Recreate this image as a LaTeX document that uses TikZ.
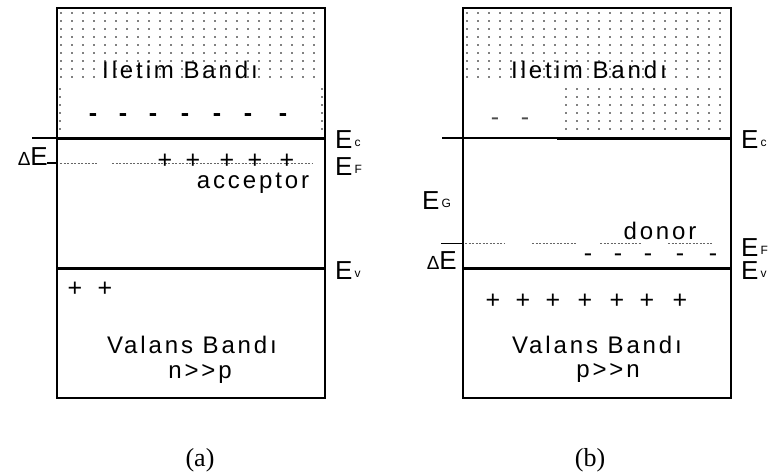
\documentclass[tikz,border=0pt]{standalone}
\usepackage{fontspec}
\setmainfont{Liberation Sans}
\newfontfamily\bandfont{Liberation Sans}[LetterSpace=12]
\newfontfamily\capfont{Liberation Serif}
\newcommand{\niv}[1]{E\kern2pt\raisebox{2.5pt}{\fontsize{12}{12}\selectfont #1}}

\begin{document}
\begin{tikzpicture}[x=1pt,y=-1pt,
    txt/.style={font=\bandfont\fontsize{24}{24}\selectfont, inner sep=0pt},
    lvl/.style={font=\fontsize{26}{26}\selectfont, inner sep=0pt, anchor=west},
    chg/.style={font=\fontsize{25}{25}\selectfont, inner sep=0pt},
    caja/.style={line width=1.5pt},
    banda/.style={line width=3pt},
    nivel/.style={black!60, line width=1pt, dash pattern=on 2pt off 1.5pt}]
\useasboundingbox (0,0) rectangle (776,472);

    % Primer diagrama (a): tipo p, aceptor
    \foreach \x in {61,72,...,321} {
        \foreach \y in {13,21,...,81} {
            \fill (\x,\y) circle (0.9);
        }
    }
    \foreach \y in {89,97,...,134} {
        \fill (60,\y) circle (0.9);
        \fill (322,\y) circle (0.9);
    }
    \draw[caja] (57,8) rectangle (325,398);
    \draw[caja] (32,138) -- (57,138);
    \draw[banda] (57,138) -- (325,138);
    \draw[banda] (57,268) -- (325,268);
    \node[txt] (ila) at (180,70) {Iletim Bandı};
    \foreach \x [count=\i] in {93,123,153,185,217,248,283} {
        \node[chg, font=\bfseries\fontsize{25}{25}\selectfont] (ea\i) at (\x,118) {-};
    }
    \draw[nivel] (60,163) -- (98,163);
    \draw[nivel] (112,163) -- (312,163);
    \draw[line width=1.2pt] (47,163) -- (57,163);
    \foreach \x [count=\i] in {165,193,227,255,287} {
        \node[chg] (pa\i) at (\x,161) {+};
    }
    \node[txt] (acc) at (253,183) {acceptor};
    \node[chg] (ha1) at (75,289) {+};
    \node[chg] (ha2) at (105,289) {+};
    \node[txt] (vba) at (192,345) {Valans Bandı};
    \node[txt] (npa) at (200,374) {n>>p};
    \node[lvl] (eca) at (335,140) {\niv{c}};
    \node[lvl] (efa) at (335,167) {\niv{F}};
    \node[lvl] (eva) at (335,271) {\niv{v}};
    \node[lvl, anchor=east] (dea) at (48,157) {{\fontsize{19}{19}\selectfont Δ}E};
    \node[font=\capfont\fontsize{26}{26}\selectfont] (capa) at (200,460) {(a)};

    % Segundo diagrama (b): tipo n, donor
    \foreach \x in {467,478,...,727} {
        \foreach \y in {13,21,...,81} {
            \fill (\x,\y) circle (0.9);
        }
    }
    \foreach \x in {566,577,...,727} {
        \foreach \y in {89,97,...,134} {
            \fill (\x,\y) circle (0.9);
        }
    }
    \draw[caja] (463,8) rectangle (731,398);
    \draw[caja] (442,138) -- (557,138);
    \draw[banda] (557,138) -- (731,138);
    \draw[banda] (463,268) -- (731,268);
    \node[txt] (ilb) at (589,70) {Iletim Bandı};
    \node[chg, black!70] (eb1) at (495,122) {-};
    \node[chg, black!70] (eb2) at (525,122) {-};
    \draw[line width=1pt] (441,243) -- (463,243);
    \foreach \a/\b in {465/505,532/577,600/642,668/712} {
        \draw[nivel] (\a,243) -- (\b,243);
    }
    \node[txt] (don) at (660,231) {donor};
    \foreach \x [count=\i] in {588,618,648,680,713} {
        \node[chg] (db\i) at (\x,258) {-};
    }
    \foreach \x [count=\i] in {493,523,553,585,617,647,680} {
        \node[chg] (hb\i) at (\x,301) {+};
    }
    \node[txt] (vbb) at (597,345) {Valans Bandı};
    \node[txt] (pnb) at (608,373) {p>>n};
    \node[lvl] (ecb) at (741,140) {\niv{c}};
    \node[lvl] (efb) at (741,248) {\niv{F}};
    \node[lvl] (evb) at (741,271) {\niv{v}};
    \node[lvl] (egb) at (422,201) {\niv{G}};
    \node[lvl, anchor=east] (deb) at (457,261) {{\fontsize{19}{19}\selectfont Δ}E};
    \node[font=\capfont\fontsize{26}{26}\selectfont] (capb) at (590,460) {(b)};
\end{tikzpicture}
\end{document}
